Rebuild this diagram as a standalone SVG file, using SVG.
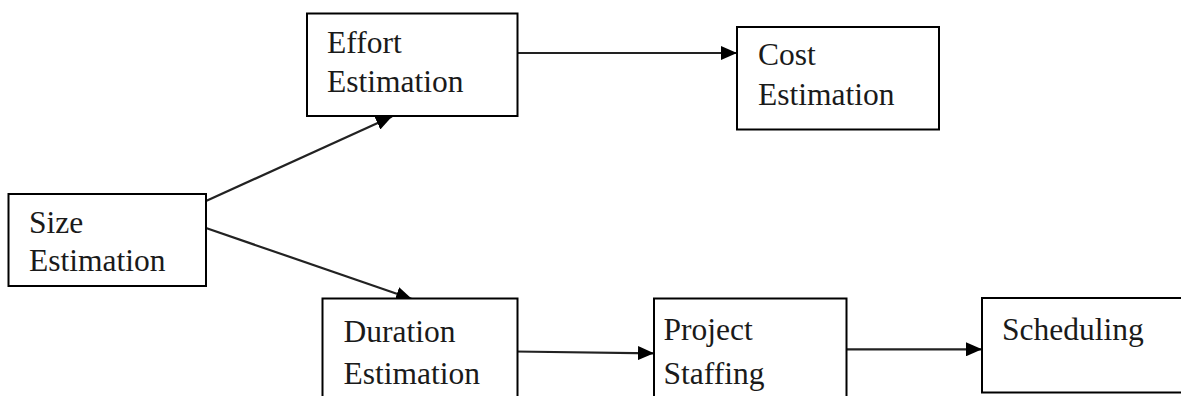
<svg xmlns="http://www.w3.org/2000/svg" width="1181" height="396" viewBox="0 0 1181 396">
<defs>
<marker id="arr" markerUnits="userSpaceOnUse" markerWidth="16" markerHeight="14" viewBox="0 0 16 14" refX="16" refY="7" orient="auto">
<path d="M0,0 L16,7 L0,14 Z" fill="#000"/>
</marker>
<style>
.box{fill:#fff;stroke:#000;stroke-width:2}
.t{font-family:'Liberation Serif','Times New Roman',serif;font-size:31.5px;fill:#1a1a1a}
.c{stroke:#222;stroke-width:2.2;fill:none;marker-end:url(#arr)}
</style>
</defs>
<rect width="1181" height="396" fill="#fff"/>
<g id="connectors">
<line class="c" x1="206" y1="201" x2="392" y2="116.5"/>
<line class="c" x1="206" y1="228" x2="412" y2="299"/>
<line class="c" x1="515" y1="53" x2="737" y2="53"/>
<line class="c" x1="515" y1="351.5" x2="654" y2="353.3"/>
<line class="c" x1="846" y1="349.3" x2="982" y2="349.3"/>
</g>
<g id="size">
<rect class="box" x="8.5" y="194" width="197.5" height="92"/>
<text class="t" x="29" y="233">Size</text>
<text class="t" x="29" y="271">Estimation</text>
</g>
<g id="effort">
<rect class="box" x="307" y="13.5" width="210.5" height="102.5"/>
<text class="t" x="327" y="53">Effort</text>
<text class="t" x="327" y="92">Estimation</text>
</g>
<g id="cost">
<rect class="box" x="737" y="27" width="202" height="102.5"/>
<text class="t" x="758" y="65">Cost</text>
<text class="t" x="758" y="105">Estimation</text>
</g>
<g id="duration">
<rect class="box" x="322.5" y="298.5" width="195" height="110"/>
<text class="t" x="343.5" y="342">Duration</text>
<text class="t" x="343.5" y="383.5">Estimation</text>
</g>
<g id="staffing">
<rect class="box" x="654" y="298.5" width="192.5" height="110"/>
<text class="t" x="663.5" y="340">Project</text>
<text class="t" x="663.5" y="383.5">Staffing</text>
</g>
<g id="scheduling">
<rect class="box" x="982" y="298" width="210" height="94.5"/>
<text class="t" x="1002" y="340">Scheduling</text>
</g>
</svg>
